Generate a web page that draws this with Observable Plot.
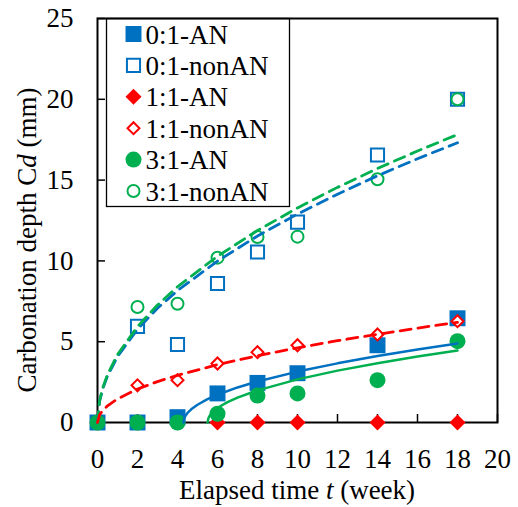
<!DOCTYPE html>
<html><head><meta charset="utf-8">
<script src="https://cdn.jsdelivr.net/npm/d3@7"></script>
<script src="https://cdn.jsdelivr.net/npm/@observablehq/plot@0.6"></script>
<style>body{margin:0;background:#fff} svg text{font-family:'Liberation Serif','Times New Roman',serif !important;}</style>
</head><body><div id="chart"></div>
<script>
// ---- data ----
const weeks = [0, 2, 4, 6, 8, 10, 14, 18];
const weeksNon = [2, 4, 6, 8, 10, 14, 18];
const an01 = [0, 0, 0.33, 1.8, 2.45, 3.05, 4.78, 6.45];
const non01 = [5.95, 4.83, 8.6, 10.55, 12.4, 16.55, 20.0];
const an11 = [0, 0, 0, 0, 0, 0, 0, 0];
const non11 = [2.3, 2.62, 3.65, 4.35, 4.78, 5.45, 6.27];
const an31 = [0, 0, 0, 0.54, 1.67, 1.8, 2.62, 5.03];
const non31 = [7.15, 7.35, 10.2, 11.48, 11.5, 15.05, 20.0];

// fitted curves
const fitTNon = [0, 0.1, 0.25, 0.5, 1, 2, 3, 4, 6, 8, 10, 12, 14, 16, 18];
const fitNon01 = [0, 1.29, 2.04, 2.88, 4.08, 5.77, 7.07, 8.16, 9.99, 11.54, 12.9, 14.13, 15.27, 16.32, 17.31];
const fitNon31 = [0, 1.33, 2.1, 2.97, 4.2, 5.94, 7.27, 8.4, 10.29, 11.88, 13.28, 14.55, 15.72, 16.8, 17.82];
const fitNon11 = [0, 0.46, 0.73, 1.03, 1.46, 2.07, 2.53, 2.92, 3.58, 4.13, 4.62, 5.06, 5.46, 5.84, 6.2];
const fitTAn01 = [4.3, 4.35, 4.4, 4.5, 4.7, 5, 5.5, 6, 7, 8, 10, 12, 14, 16, 18];
const fitAn01 = [0, 0.3, 0.42, 0.59, 0.83, 1.1, 1.45, 1.72, 2.17, 2.54, 3.15, 3.66, 4.11, 4.52, 4.89];
const fitTAn31 = [5.5, 5.55, 5.6, 5.7, 5.9, 6.2, 6.5, 7, 8, 10, 12, 14, 16, 18];
const fitAn31 = [0, 0.28, 0.4, 0.56, 0.8, 1.05, 1.26, 1.54, 1.99, 2.67, 3.21, 3.67, 4.08, 4.45];

const xTicks = [0, 2, 4, 6, 8, 10, 12, 14, 16, 18, 20];
const yTicks = [0, 5, 10, 15, 20, 25];
const seriesNames = ["0:1-AN", "0:1-nonAN", "1:1-AN", "1:1-nonAN", "3:1-AN", "3:1-nonAN"];

const BLUE = "#0070C0", RED = "#FF0000", GREEN = "#00B050";
const styles = [
  {symbol: "square", r: 9, fill: BLUE, stroke: "none", strokeWidth: 0},
  {symbol: "square", r: 7.4, fill: "white", stroke: BLUE, strokeWidth: 2},
  {symbol: "diamond2", r: 7.2, fill: RED, stroke: "none", strokeWidth: 0},
  {symbol: "diamond2", r: 5.4, fill: "white", stroke: RED, strokeWidth: 2},
  {symbol: "circle", r: 8, fill: GREEN, stroke: "none", strokeWidth: 0},
  {symbol: "circle", r: 6, fill: "white", stroke: GREEN, strokeWidth: 2}
];
const seriesData = [
  [weeks, an01], [weeksNon, non01], [weeks, an11], [weeksNon, non11], [weeks, an31], [weeksNon, non31]
].map(([ts, vs]) => ts.map((t, i) => ({t, v: vs[i]})));

const pts = (ts, vs) => ts.map((t, i) => ({t, v: vs[i]}));
const fits = [
  {d: pts(fitTNon, fitNon01), stroke: BLUE, dash: "11,7"},
  {d: pts(fitTNon, fitNon31), stroke: GREEN, dash: "11,7"},
  {d: pts(fitTNon, fitNon11), stroke: RED, dash: "11,7"},
  {d: pts(fitTAn01, fitAn01), stroke: BLUE, dash: null},
  {d: pts(fitTAn31, fitAn31), stroke: GREEN, dash: null}
];

const FS = 27;
const innerW = 518 - 97 - 21, innerH = 507 - 18 - 85;

const marks = [
  Plot.frame({stroke: "black", strokeWidth: 2}),
  Plot.tickX(xTicks, {x: d => d, stroke: "black", strokeWidth: 1.5, insetTop: innerH - 8}),
  Plot.tickY(yTicks, {y: d => d, stroke: "black", strokeWidth: 1.5, insetRight: innerW - 8}),
  Plot.axisX({ticks: xTicks, tickSize: 0, tickPadding: 26, fontSize: FS, label: null, tickFormat: d => String(d)}),
  Plot.axisY({ticks: yTicks, tickSize: 0, tickPadding: 24, fontSize: FS, label: null, tickFormat: d => String(d)})
];
seriesData.forEach((d, i) => {
  const s = styles[i];
  marks.push(Plot.dot(d, {x: "t", y: "v", symbol: () => s.symbol, r: s.r, fill: s.fill, stroke: s.stroke, strokeWidth: s.strokeWidth}));
});
fits.forEach(f => {
  marks.push(Plot.line(f.d, {x: "t", y: "v", stroke: f.stroke, strokeWidth: f.dash ? 2.8 : 2.5, strokeDasharray: f.dash ?? undefined}));
});
// legend inside the plot
marks.push(Plot.frame({stroke: "black", strokeWidth: 1.3, insetLeft: 9, insetRight: 208, insetBottom: 216}));
seriesNames.forEach((name, i) => {
  const s = styles[i];
  const dy = 15.5 + i * 31.4;
  marks.push(Plot.dot([name], {frameAnchor: "top-left", dx: 36, dy, symbol: () => s.symbol, r: s.r, fill: s.fill, stroke: s.stroke, strokeWidth: s.strokeWidth}));
  marks.push(Plot.text([name], {frameAnchor: "top-left", dx: 48, dy: dy + 1, text: d => d, textAnchor: "start", lineAnchor: "middle", fontSize: FS, fill: "black"}));
});

const chart = Plot.plot({
  width: 518, height: 507,
  marginLeft: 97, marginRight: 21, marginTop: 18, marginBottom: 85,
  style: {fontFamily: "'Liberation Serif', 'Times New Roman', serif", fontSize: FS + "px", color: "black", background: "white", overflow: "visible"},
  x: {domain: [0, 20]},
  y: {domain: [0, 25]},
  marks
});

const svg = d3.select(chart);
const xl = svg.append("text").attr("x", 297).attr("y", 499).attr("text-anchor", "middle")
  .attr("font-size", FS).attr("fill", "black");
xl.append("tspan").text("Elapsed time ");
xl.append("tspan").attr("font-style", "italic").text("t");
xl.append("tspan").text(" (week)");
const yl = svg.append("text").attr("transform", "translate(36,240) rotate(-90)").attr("text-anchor", "middle")
  .attr("font-size", FS).attr("fill", "black");
yl.append("tspan").text("Carbonation depth C");
yl.append("tspan").attr("font-style", "italic").text("d");
yl.append("tspan").text(" (mm)");

document.getElementById("chart").appendChild(chart);
</script>
</body></html>
